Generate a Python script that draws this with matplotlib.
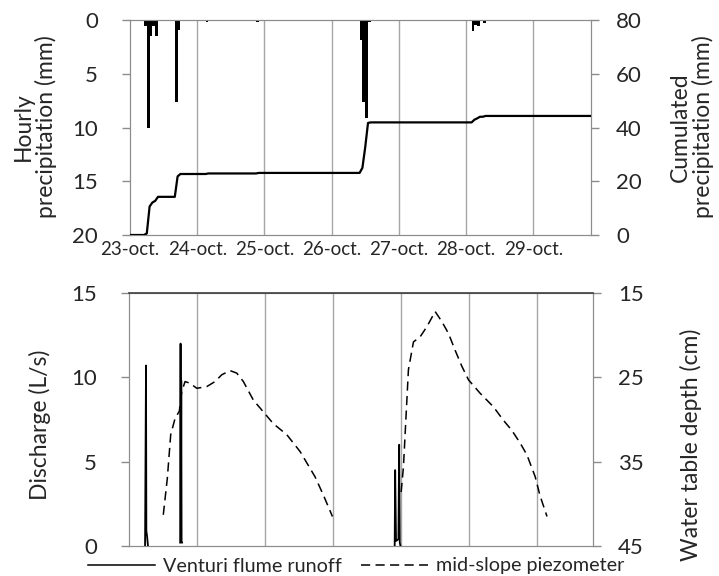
import matplotlib
matplotlib.use("Agg")
import matplotlib.pyplot as plt
import numpy as np
from matplotlib.lines import Line2D

plt.rcParams['font.family'] = ['Lato', 'DejaVu Sans']

# hourly rain (hour index counted from 23-oct 00:00) and amount in mm
rain_hour = [5, 6, 7, 8, 9, 16, 17, 27, 45, 82, 83, 84, 85, 122, 123, 124, 126]
rain_mm = [0.6, 10.0, 1.5, 0.6, 1.5, 7.6, 0.9, 0.2, 0.2, 1.9, 7.6, 9.1, 0.2, 1.0, 0.5, 0.6, 0.3]
n_hours = 165

day_labels = ['23-oct.', '24-oct.', '25-oct.', '26-oct.', '27-oct.', '28-oct.', '29-oct.']

# venturi flume discharge (L/s), only around the events
runoff_day = [0.236, 0.250, 0.255, 0.265, 0.279, np.nan,
              0.752, 0.758, 0.763, 0.768, 0.773, 0.780, np.nan,
              3.905, 3.912, 3.925, 3.960, 3.971, 3.980, 3.990]
runoff_ls = [0.0, 10.7, 0.9, 0.6, 0.0, np.nan,
             0.2, 12.0, 0.3, 9.8, 0.3, 0.2, np.nan,
             0.0, 4.5, 0.3, 0.4, 6.0, 0.2, 0.0]

# mid-slope piezometer water table depth (cm)
piezo_day = [0.504, 0.563, 0.613, 0.676, 0.740, 0.775, 0.824, 0.897, 0.996, 1.143,
             1.265, 1.363, 1.485, 1.584, 1.681, 1.828, 1.975, 2.122, 2.319, 2.515,
             2.735, 2.859, 2.990, np.nan,
             4.000, 4.034, 4.074, 4.107, 4.181, 4.279, 4.378, 4.500, 4.599, 4.696,
             4.794, 4.893, 4.990, 5.162, 5.357, 5.504, 5.628, 5.750, 5.849, 5.971,
             6.040, 6.144]
piezo_cm = [41.3, 37.0, 31.8, 29.9, 29.0, 26.7, 25.5, 25.7, 26.3, 26.1,
            25.5, 24.7, 24.2, 24.5, 25.5, 27.7, 29.1, 30.5, 31.8, 33.8,
            36.8, 39.0, 41.5, np.nan,
            38.6, 35.6, 29.3, 24.1, 20.8, 20.2, 19.0, 17.2, 18.4, 19.8,
            21.8, 23.7, 25.3, 26.9, 28.5, 30.1, 31.3, 32.8, 34.2, 36.8,
            39.0, 41.5]

hourly = np.zeros(n_hours)
hourly[rain_hour] = rain_mm
cum_x = np.arange(n_hours + 1) / 24.0
cum_y = np.concatenate([[0.0], np.cumsum(hourly)])

grey = '#8c8c8c'
txt = '#262626'
fs_tick = 16
fs_lab = 16.5
fs_date = 13.5
fs_leg = 14.2
piezo_dash = (6, 3.5)

fig = plt.figure(figsize=(7.19, 5.76), dpi=100)
W, H = 719.0, 576.0

def style(ax, twin, top_col):
    for s in ['left', 'right', 'bottom']:
        ax.spines[s].set_color(grey)
        twin.spines[s].set_color(grey)
    ax.spines['top'].set_color(top_col)
    twin.spines['top'].set_color(top_col)
    for a in (ax, twin):
        a.tick_params(axis='y', colors=grey, labelcolor=txt, labelsize=fs_tick,
                      length=6, width=1, direction='out')
        a.tick_params(axis='x', length=0)
    ax.tick_params(axis='y', pad=17)
    twin.tick_params(axis='y', pad=12)
    for d in range(1, 7):
        ax.axvline(d, color='#a6a6a6', lw=1, zorder=0)

# ---- top: rainfall
ax1 = fig.add_axes([130 / W, 1 - 235 / H, 461 / W, 215 / H])
ax1b = ax1.twinx()
ax1.bar(np.array(rain_hour) / 24.0, rain_mm, width=1 / 24.0, align='edge',
        color='black', zorder=3)
ax1.set_ylim(20, 0)
ax1.set_yticks([0, 5, 10, 15, 20])
ax1.set_xlim(0, 6.86)
ax1b.plot(cum_x, cum_y, color='black', lw=1.6, zorder=3)
ax1b.set_ylim(0, 80)
ax1b.set_yticks([0, 20, 40, 60, 80])
ax1.set_xticks(range(7))
ax1.set_xticklabels(day_labels, fontsize=fs_date, color=txt)
ax1.tick_params(axis='x', pad=4)
style(ax1, ax1b, grey)

# ---- bottom: discharge and water table
ax2 = fig.add_axes([129 / W, 1 - 546 / H, 464 / W, 253 / H])
ax2b = ax2.twinx()
ax2.plot(runoff_day, runoff_ls, color='black', lw=1.3, zorder=3)
ax2.set_ylim(0, 15)
ax2.set_yticks([0, 5, 10, 15])
ax2.set_xlim(0, 6.82)
ax2.set_xticks([])
ax2b.plot(piezo_day, piezo_cm, color='black', lw=1.1, dashes=piezo_dash, zorder=3)
ax2b.set_ylim(45, 15)
ax2b.set_yticks([15, 25, 35, 45])
style(ax2, ax2b, '#4d4d4d')
ax2.spines['top'].set_linewidth(1.3)

# axis titles
fig.text(35 / W, 1 - 127 / H, 'Hourly\nprecipitation (mm)', rotation=90,
         ha='center', va='center', fontsize=fs_lab, color=txt,
         multialignment='center', linespacing=1.05)
fig.text(692 / W, 1 - 127 / H, 'Cumulated\nprecipitation (mm)', rotation=90,
         ha='center', va='center', fontsize=fs_lab, color=txt,
         multialignment='center', linespacing=1.05)
fig.text(40 / W, 1 - 425 / H, 'Discharge (L/s)', rotation=90,
         ha='center', va='center', fontsize=fs_lab, color=txt)
fig.text(691 / W, 1 - 445 / H, 'Water table depth (cm)', rotation=90,
         ha='center', va='center', fontsize=fs_lab, color=txt)

handles = [Line2D([], [], color='black', lw=1.1),
           Line2D([], [], color='black', lw=1.1, dashes=piezo_dash)]
fig.legend(handles, ['Venturi flume runoff', 'mid-slope piezometer'],
           loc='center', bbox_to_anchor=(356 / W, 1 - 566 / H), ncol=2,
           frameon=False, fontsize=fs_leg, handlelength=3.4, handletextpad=0.4,
           columnspacing=1.0, labelcolor=txt, borderaxespad=0, borderpad=0)

fig.savefig('out.png', dpi=100)
